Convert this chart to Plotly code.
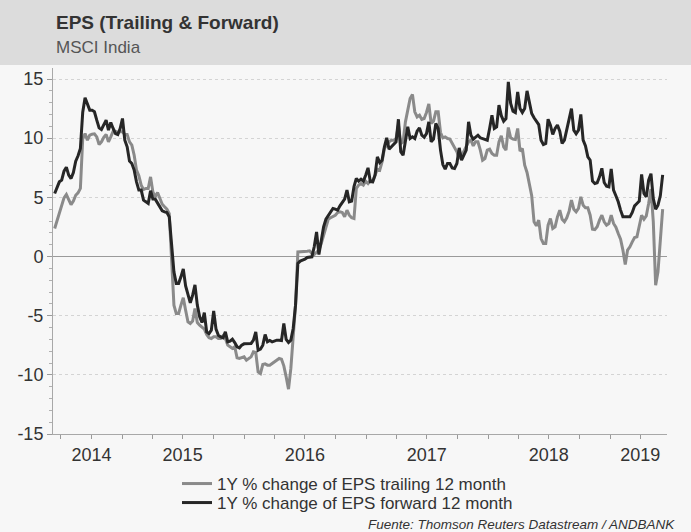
import pandas as pd
import plotly.graph_objects as go

# Weekly observations, mid-June 2014 to mid-June 2019
start_date = "2014-06-13"

forward_12m = [
    5.32, 5.80, 6.31, 6.45, 7.21, 7.55, 6.87, 6.59, 7.10, 8.06,
    8.51, 9.13, 12.2, 13.41, 12.79, 12.37, 12.37, 12.23, 11.52, 10.87,
    10.73, 11.10, 11.52, 10.68, 11.32, 10.82, 10.39, 10.31, 10.82, 11.66,
    9.83, 9.27, 8.06, 7.86, 7.30, 6.31, 5.61, 5.61, 4.76, 4.62,
    4.48, 5.56, 4.85, 4.85, 4.48, 4.11, 3.86, 3.77, 3.72, 3.35,
    1.24, -1.30, -2.28, -2.28, -1.72, -1.05, -2.48, -3.32, -3.92, -3.27,
    -2.40, -4.11, -5.10, -5.58, -4.75, -6.37, -6.51, -6.23, -4.60, -6.14,
    -6.65, -6.79, -6.87, -6.37, -7.21, -7.15, -6.99, -7.27, -7.63, -7.72,
    -7.49, -7.38, -7.35, -7.38, -7.35, -7.07, -6.37, -7.92, -7.83, -7.49,
    -6.59, -7.21, -7.10, -7.21, -7.13, -7.07, -7.07, -7.10, -5.66, -7.01,
    -7.27, -7.07, -6.08, -4.11, -0.59, -0.39, -0.31, -0.23, -0.08, -0.03,
    -0.03, 0.82, 2.08, 0.17, 1.24, 2.51, 3.15, 3.49, 3.77, 4.06,
    4.00, 3.92, 4.28, 4.62, 4.85, 5.61, 4.62, 4.68, 5.90, 6.59,
    6.37, 6.54, 6.37, 6.87, 7.49, 6.31, 6.31, 6.87, 8.42, 7.94,
    8.14, 9.27, 10.03, 9.07, 9.30, 9.46, 9.69, 11.60, 8.85, 8.56,
    9.97, 10.96, 9.97, 10.11, 9.97, 10.59, 10.87, 10.25, 10.08, 10.39,
    11.38, 9.69, 9.92, 11.24, 10.82, 8.99, 7.77, 7.38, 7.86, 7.86,
    7.49, 7.44, 7.86, 9.18, 8.14, 8.56, 8.99, 11.38, 10.25, 9.92,
    10.11, 10.25, 10.03, 9.97, 9.92, 9.83, 10.82, 11.94, 10.82, 10.96,
    12.80, 11.90, 11.44, 11.66, 14.76, 12.93, 12.28, 12.17, 13.90, 12.51,
    12.17, 12.51, 14.00, 13.07, 12.08, 11.72, 11.38, 11.15, 9.83, 9.46,
    9.55, 11.60, 11.10, 10.31, 10.82, 11.10, 10.59, 9.55, 9.83, 10.68,
    11.80, 12.50, 10.68, 10.37, 10.68, 12.00, 9.83, 9.35, 8.42, 8.14,
    6.37, 6.17, 6.23, 6.73, 7.45, 6.25, 5.94, 5.89, 7.40, 5.61,
    5.13, 4.62, 3.92, 3.35, 3.35, 3.35, 3.35, 3.72, 4.28, 4.48,
    4.68, 6.93, 5.32, 5.04, 6.45, 7.00, 4.90, 4.00, 4.34, 5.13,
    6.90,
]

trailing_12m = [
    2.37, 2.99, 3.77, 4.34, 4.96, 5.24, 4.82, 4.39, 4.68, 5.18,
    5.38, 5.75, 9.97, 10.39, 9.83, 10.25, 10.34, 10.37, 10.11, 9.46,
    9.69, 10.08, 10.31, 9.69, 10.11, 10.59, 10.59, 10.48, 10.54, 10.54,
    10.31, 10.31, 9.69, 9.41, 8.56, 7.30, 6.82, 6.03, 5.66, 5.75,
    5.75, 6.73, 5.46, 5.04, 5.41, 4.96, 4.42, 4.20, 4.00, 3.63,
    -0.45, -4.11, -4.82, -4.82, -4.11, -3.49, -4.54, -5.52, -5.66, -5.46,
    -4.39, -5.58, -5.80, -5.94, -6.14, -6.59, -6.87, -6.93, -6.79, -6.79,
    -6.93, -6.93, -6.70, -6.93, -7.49, -7.63, -7.77, -7.63, -8.56, -8.62,
    -8.56, -8.48, -8.76, -8.62, -8.48, -8.06, -8.11, -9.75, -9.89, -9.13,
    -9.07, -9.18, -9.18, -9.04, -8.90, -8.76, -8.62, -8.68, -9.24, -10.17,
    -11.21, -9.46, -6.93, -4.11, 0.39, 0.39, 0.42, 0.45, 0.45, 0.48,
    0.25, 0.17, 0.39, 0.54, 1.10, 1.80, 2.65, 3.15, 3.27, 3.35,
    3.49, 3.72, 3.77, 3.72, 3.35, 3.92, 3.49, 3.27, 3.21, 5.75,
    6.03, 6.17, 6.03, 6.37, 6.17, 6.42, 6.31, 6.87, 7.38, 7.30,
    8.00, 9.13, 9.46, 9.69, 9.83, 9.83, 9.97, 11.10, 9.55, 9.69,
    11.38, 12.37, 13.35, 13.70, 12.23, 11.80, 11.94, 11.58, 11.66, 12.17,
    12.90, 11.24, 11.44, 12.23, 12.23, 10.48, 10.03, 10.11, 9.97, 9.92,
    9.55, 9.27, 8.85, 8.28, 8.51, 8.90, 9.35, 9.69, 9.83, 9.35,
    9.69, 9.69, 9.01, 8.14, 8.28, 8.99, 9.07, 8.70, 8.56, 8.56,
    9.69, 10.20, 9.27, 8.99, 10.90, 10.03, 9.92, 9.89, 10.82, 8.90,
    9.13, 7.72, 7.10, 6.17, 5.13, 2.93, 2.59, 3.07, 1.52, 1.10,
    1.10, 2.65, 3.21, 2.37, 2.51, 3.35, 3.92, 3.15, 2.93, 3.27,
    3.83, 4.76, 4.00, 3.77, 4.06, 5.04, 4.34, 4.11, 4.11, 3.49,
    2.31, 2.28, 2.51, 3.07, 3.49, 2.93, 2.65, 2.79, 3.49, 2.79,
    2.48, 1.94, 1.46, 0.54, -0.68, 0.54, 0.82, 1.24, 1.61, 1.66,
    2.51, 3.49, 3.15, 3.44, 4.48, 5.70, 2.93, -2.42, -1.30, 1.00,
    4.00,
]

series_names = ["1Y % change of EPS trailing 12 month",
                "1Y % change of EPS forward 12 month"]
year_labels = ["2014", "2015", "2016", "2017", "2018", "2019"]
year_label_dates = ["2014-10-01", "2015-07-01", "2016-07-01",
                    "2017-07-01", "2018-07-01", "2019-04-01"]
y_ticks = [-15, -10, -5, 0, 5, 10, 15]
y_ticktext = ["-15", "-10", "-5", "0", "5", "10", "15"]

dates = pd.date_range(start_date, periods=len(forward_12m), freq="7D")

# quarterly tick marks, labels only at chosen positions
quarters = pd.date_range("2014-07-01", "2019-04-01", freq="QS")
tickvals = list(quarters.strftime("%Y-%m-%d"))
ticktext = []
for q in tickvals:
    ticktext.append(year_labels[year_label_dates.index(q)] if q in year_label_dates else "")

FONT = "Liberation Sans, Arial, sans-serif"
W, H = 691, 532
ML, MR, MT, MB = 53, 24, 68, 98
plot_h = H - MT - MB
plot_w = W - ML - MR

def py(pix):  # pixel row -> paper y
    return (H - MB - pix) / plot_h

def px(pix):  # pixel col -> paper x
    return (pix - ML) / plot_w

fig = go.Figure()
fig.add_trace(go.Scatter(x=dates, y=trailing_12m, mode="lines", name=series_names[0],
                         line=dict(color="#8a8a8a", width=3), legend="legend"))
fig.add_trace(go.Scatter(x=dates, y=forward_12m, mode="lines", name=series_names[1],
                         line=dict(color="#262626", width=3), legend="legend2"))

leg_common = dict(xanchor="left", yanchor="top", bgcolor="rgba(0,0,0,0)",
                  font=dict(size=17, color="#333333", family=FONT))

fig.update_layout(
    width=W, height=H,
    margin=dict(l=ML, r=MR, t=MT, b=MB, autoexpand=False),
    paper_bgcolor="#f7f7f7", plot_bgcolor="#f7f7f7",
    font=dict(family=FONT, color="#333333"),
    showlegend=True,
    legend=dict(x=px(177), y=py(466), **leg_common),
    legend2=dict(x=px(177), y=py(485), **leg_common),
    xaxis=dict(type="date", range=["2014-06-08", "2019-06-20"], automargin=False,
               tickmode="array", tickvals=tickvals, ticktext=ticktext,
               ticks="outside", ticklen=4, tickcolor="#9a9a9a",
               showline=True, linecolor="#a8a8a8", linewidth=1,
               showgrid=False, zeroline=False,
               tickfont=dict(size=18, color="#333333", family=FONT)),
    yaxis=dict(range=[-15, 15.93], automargin=False,
               tickmode="array", tickvals=y_ticks, ticktext=y_ticktext,
               ticks="outside", ticklen=5, tickcolor="#9a9a9a",
               minor=dict(dtick=1, ticks="outside", ticklen=3, tickcolor="#b0b0b0",
                          showgrid=False),
               showline=True, linecolor="#a8a8a8", linewidth=1,
               showgrid=True, gridcolor="#d4d4d4", griddash="dot", gridwidth=1,
               zeroline=True, zerolinecolor="#9a9a9a", zerolinewidth=1.5,
               tickfont=dict(size=18, color="#333333", family=FONT)),
)

# header band
fig.add_shape(type="rect", xref="paper", yref="paper",
              x0=px(0), x1=px(W), y0=py(65), y1=py(0),
              fillcolor="#dcdcdc", line=dict(width=0), layer="below")

fig.add_annotation(text="<b>EPS (Trailing &amp; Forward)</b>", xref="paper", yref="paper",
                   x=px(54), y=py(22), xanchor="left", yanchor="middle", showarrow=False,
                   font=dict(size=19, color="#333333", family=FONT))
fig.add_annotation(text="MSCI India", xref="paper", yref="paper",
                   x=px(54), y=py(47), xanchor="left", yanchor="middle", showarrow=False,
                   font=dict(size=17, color="#555555", family=FONT))
fig.add_annotation(text="<i>Fuente: Thomson Reuters Datastream / ANDBANK</i>",
                   xref="paper", yref="paper", x=px(677), y=py(524),
                   xanchor="right", yanchor="middle", showarrow=False,
                   font=dict(size=13.5, color="#333333", family=FONT))

fig.write_html(
    "out.html",
    config={"displayModeBar": False, "staticPlot": True},
    post_script="document.body.style.margin='0px';document.body.style.padding='0px';"
                "document.body.style.background='#f7f7f7';document.body.style.overflow='hidden';",
)
